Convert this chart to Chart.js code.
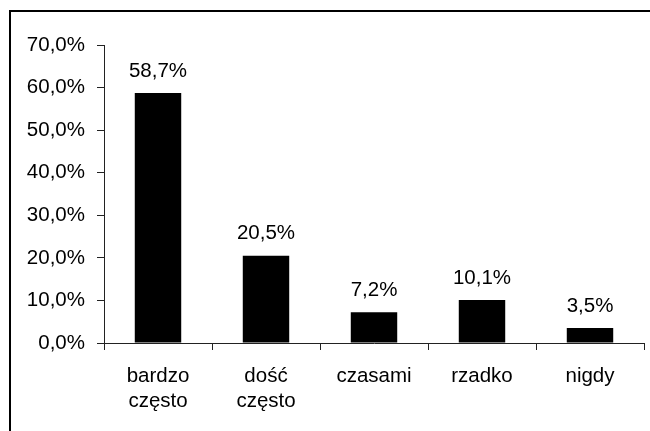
<!DOCTYPE html>
<html lang="pl">
<head>
    <meta charset="UTF-8">
    <title>Częstotliwość</title>
    <script src="https://cdn.jsdelivr.net/npm/chart.js"></script>
    <style>
        html, body {
            margin: 0;
            padding: 0;
            background: #fff;
        }
        .chart-box {
            width: 650px;
            height: 431px;
        }
    </style>
</head>
<body>
    <div class="chart-box">
        <canvas id="freq-chart" width="650" height="431"></canvas>
    </div>

    <script>
        // Data
        const categories = [['bardzo', 'często'], ['dość', 'często'], 'czasami', 'rzadko', 'nigdy'];
        const shares = [58.7, 20.5, 7.2, 10.1, 3.5];
        const yTicks = [0, 10, 20, 30, 40, 50, 60, 70];

        const fontFamily = '"Liberation Sans", Arial, sans-serif';
        const fontSize = 20.5;

        function plPercent(v) {
            return v.toFixed(1).replace('.', ',') + '%';
        }

        // outer frame (only top/left are inside the picture)
        const framePlugin = {
            id: 'frame',
            beforeDraw(chart) {
                const c = chart.ctx;
                c.save();
                c.fillStyle = '#fff';
                c.fillRect(0, 0, chart.width, chart.height);
                c.strokeStyle = '#000';
                c.lineWidth = 2;
                c.strokeRect(10, 11, chart.width + 20, chart.height + 20);
                c.restore();
            }
        };

        // value labels above bars
        const valueLabels = {
            id: 'valueLabels',
            afterDatasetsDraw(chart) {
                const c = chart.ctx;
                const meta = chart.getDatasetMeta(0);
                c.save();
                c.font = fontSize + 'px ' + fontFamily;
                c.fillStyle = '#000';
                c.textAlign = 'center';
                c.textBaseline = 'middle';
                meta.data.forEach((bar, i) => {
                    c.fillText(plPercent(shares[i]), bar.x, bar.y - 22);
                });
                c.restore();
            }
        };

        const ctx = document.getElementById('freq-chart').getContext('2d');
        new Chart(ctx, {
            type: 'bar',
            data: {
                labels: categories,
                datasets: [{
                    data: shares,
                    backgroundColor: '#000',
                    borderWidth: 0,
                    categoryPercentage: 1,
                    barPercentage: 0.43
                }]
            },
            options: {
                responsive: false,
                animation: false,
                layout: {
                    padding: { top: 45, right: 6, left: 0, bottom: 0 }
                },
                plugins: {
                    legend: { display: false },
                    tooltip: { enabled: false }
                },
                scales: {
                    y: {
                        min: 0,
                        max: 70,
                        afterFit(scale) { scale.width = 104; },
                        afterBuildTicks(scale) {
                            scale.ticks = yTicks.map(v => ({ value: v }));
                        },
                        border: { color: '#222', width: 1 },
                        grid: {
                            drawOnChartArea: false,
                            drawTicks: true,
                            tickLength: 7,
                            color: '#222'
                        },
                        ticks: {
                            padding: 12,
                            color: '#000',
                            font: { family: fontFamily, size: fontSize },
                            callback: v => plPercent(v)
                        }
                    },
                    x: {
                        afterFit(scale) { scale.height = 88; },
                        border: { color: '#222', width: 1 },
                        grid: {
                            offset: true,
                            drawOnChartArea: false,
                            drawTicks: true,
                            tickLength: 7,
                            color: '#222'
                        },
                        ticks: {
                            padding: 14,
                            maxRotation: 0,
                            color: '#000',
                            font: { family: fontFamily, size: fontSize, lineHeight: 1.22 }
                        }
                    }
                }
            },
            plugins: [framePlugin, valueLabels]
        });
    </script>
</body>
</html>
